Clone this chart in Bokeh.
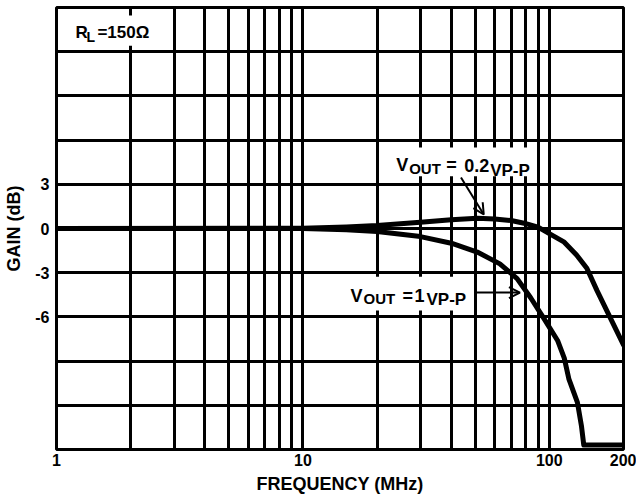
from bokeh.plotting import figure
from bokeh.models import Range1d, FixedTicker, Label, Arrow, OpenHead, PrintfTickFormatter
from bokeh.embed import file_html
from bokeh.resources import INLINE

# ---- data ----
freq_02 = [1, 10, 15, 20, 30, 40, 51, 60, 70, 79, 90, 100, 115, 129, 142, 156, 176, 200]
gain_02 = [0.0, 0.02, 0.1, 0.2, 0.43, 0.6, 0.7, 0.65, 0.54, 0.36, 0.09, -0.35, -0.93, -1.8, -2.7, -4.2, -6.0, -7.9]

freq_1 = [1, 10, 15, 20, 30, 40, 51, 63, 74, 84, 95, 108, 115, 120, 130, 135, 138, 200]
gain_1 = [0.0, 0.0, -0.08, -0.2, -0.55, -1.0, -1.6, -2.4, -3.4, -4.7, -6.1, -7.6, -8.8, -10.2, -11.8, -13.4, -14.7, -14.7]

x_tick_values = [1, 10, 100, 200]
y_tick_values = [-6, -3, 0, 3]
x_grid_values = [1, 2, 3, 4, 5, 6, 7, 8, 9, 10, 20, 30, 40, 50, 60, 70, 80, 90, 100, 200]
y_grid_values = [-15, -12, -9, -6, -3, 0, 3, 6, 9, 12, 15]

# white backgrounds behind the annotation texts (data units: left, right, bottom, top)
label_box_left = [1.2, 23.3, 15.2]
label_box_right = [2.75, 86.0, 47.6]
label_box_bottom = [12.4, 3.55, -5.57]
label_box_top = [14.45, 5.5, -3.28]

FONT = "Liberation Sans"

p = figure(width=636, height=500, x_axis_type="log",
           x_range=Range1d(1, 200), y_range=Range1d(-15, 15),
           output_backend="svg", toolbar_location=None,
           min_border_left=56, min_border_right=13, min_border_top=7, min_border_bottom=51)

p.background_fill_color = "white"
p.border_fill_color = "white"
p.outline_line_color = "black"
p.outline_line_width = 3
p.outline_line_alpha = 1.0

# grids
p.xgrid.ticker = FixedTicker(ticks=x_grid_values)
p.ygrid.ticker = FixedTicker(ticks=y_grid_values)
for g in (p.xgrid, p.ygrid):
    g.grid_line_color = "black"
    g.grid_line_width = 3
    g.grid_line_alpha = 1.0

# axes
p.xaxis.ticker = FixedTicker(ticks=x_tick_values)
p.xaxis.formatter = PrintfTickFormatter(format="%d")
p.yaxis.ticker = FixedTicker(ticks=y_tick_values)
p.yaxis.formatter = PrintfTickFormatter(format="%d")
for ax in (p.xaxis, p.yaxis):
    ax.axis_line_color = None
    ax.major_tick_line_color = None
    ax.minor_tick_line_color = None
    ax.major_tick_out = 0
    ax.major_tick_in = 0
    ax.major_label_text_font = FONT
    ax.major_label_text_font_style = "bold"
    ax.major_label_text_font_size = "16px"
    ax.major_label_text_color = "black"
    ax.axis_label_text_font = FONT
    ax.axis_label_text_font_style = "bold"
    ax.axis_label_text_font_size = "18px"
    ax.axis_label_text_color = "black"
p.xaxis.axis_label = "FREQUENCY (MHz)"
p.yaxis.axis_label = "GAIN (dB)"
p.xaxis.major_label_standoff = 4
p.xaxis.axis_label_standoff = 5
p.yaxis.major_label_standoff = 7
p.yaxis.axis_label_standoff = 8

# white boxes behind the labels (hide grid lines there)
p.quad(left=label_box_left, right=label_box_right, bottom=label_box_bottom, top=label_box_top,
       fill_color="white", line_color=None)

# curves
p.line(freq_02, gain_02, line_color="black", line_width=5, line_join="round", line_cap="round")
p.line(freq_1, gain_1, line_color="black", line_width=5, line_join="round", line_cap="round")


def add_text(x, y, pieces):
    for txt, dx, dy, size in pieces:
        p.add_layout(Label(x=x, y=y, text=txt, x_offset=dx, y_offset=dy,
                           text_align="left", text_baseline="alphabetic",
                           text_font=FONT, text_font_style="bold",
                           text_font_size=f"{size}px", text_color="black"))


# R_L = 150 ohm
add_text(1.193, 13.3, [("R", 0, 0, 17), ("L", 11, -4, 14), ("=150Ω", 22, 0, 17)])

# V_OUT = 0.2 V_P-P
add_text(23.9, 4.28, [("V", 0, 0, 18), ("OUT", 13, -3, 15), ("=", 50, 0, 18),
                      ("0.2", 68, 0, 18), ("VP-P", 94, -5, 17)])
p.add_layout(Arrow(end=OpenHead(size=11, line_width=2, line_color="black"),
                   x_start=43.8, y_start=3.46, x_end=54.2, y_end=0.95,
                   line_width=2, line_color="black"))

# V_OUT = 1 V_P-P
add_text(15.6, -4.55, [("V", 0, 0, 18), ("OUT", 13, -3, 15), ("=", 52, 0, 18),
                       ("1", 64, 0, 18), ("VP-P", 76, -4, 17)])
p.add_layout(Arrow(end=OpenHead(size=11, line_width=2, line_color="black"),
                   x_start=50, y_start=-4.35, x_end=76, y_end=-4.35,
                   line_width=2, line_color="black"))

open("out.html", "w").write(file_html(p, INLINE))
